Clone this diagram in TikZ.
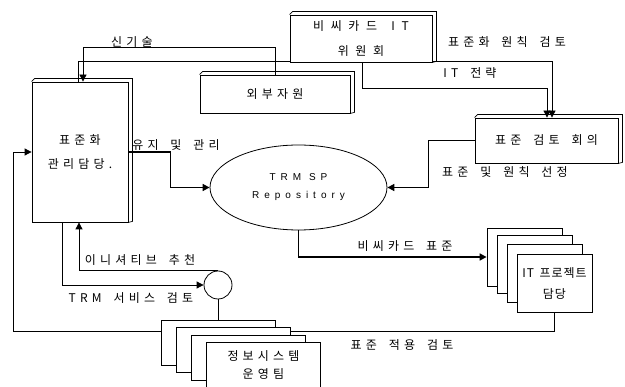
\documentclass[tikz,border=0pt]{standalone}
\usepackage{fontspec}
\usetikzlibrary{arrows.meta,shapes.geometric,backgrounds}
\newfontfamily\kr[LetterSpace=35]{Noto Sans CJK KR}
\newfontfamily\krw[LetterSpace=55]{Noto Sans CJK KR}
\newfontfamily\krn[LetterSpace=8]{Noto Sans CJK KR}
\newfontfamily\lat[LetterSpace=50]{Liberation Sans}
\newcommand\ws{\hspace{5pt}}
\newcommand\depthbox[1]{%
  \draw[line width=0.7pt] (#1.north west) -- ([shift={(3,-3)}]#1.north west)
    -- ([shift={(4,-3)}]#1.north east) -- ([shift={(4,-1)}]#1.south east) -- (#1.south east);}
\begin{document}
\begin{tikzpicture}[x=1pt,y=-1pt,
  box/.style={draw, line width=0.8pt, fill=white, inner sep=0pt, align=center,
    font=\kr\fontsize{12}{24}\selectfont},
  lbl/.style={font=\kr\fontsize{12}{14}\selectfont, inner sep=0pt},
  con/.style={line width=0.8pt},
  boldcon/.style={line width=1.6pt},
  arr/.style={-{Triangle[length=7pt,width=7pt]}},
]
\useasboundingbox (0,0) rectangle (625,387);

% boxes
\node[box, minimum width=142, minimum height=47, font=\krw\fontsize{12}{25}\selectfont] (com) at (361,38.5) {비씨카드 \ws{}IT\\위원회};
\node[box, minimum width=150, minimum height=38] (ext) at (275,94) {외부자원};
\node[box, minimum width=96, minimum height=140] (mgr) at (80,152) {표준화\\관리담당.};
\node[box, minimum width=143, minimum height=45] (rev) at (546.5,140.5) {표준 \ws{}검토 \ws{}회의};
\node[draw, ellipse, line width=0.8pt, fill=white, minimum width=177, minimum height=85,
  inner sep=0pt, align=center, font=\lat\fontsize{10}{18}\selectfont] (repo) at (298.5,187.5)
  {TRM SP\\Repository};
\node[draw, circle, line width=0.8pt, fill=white, minimum size=28, inner sep=0pt] (circ) at (218,285) {};

\node[box, minimum width=75, minimum height=58] (itp1) at (524.5,257) {};
\node[box, minimum width=75, minimum height=58] (itp2) at (534.5,264) {};
\node[box, minimum width=75, minimum height=58] (itp3) at (544.5,273) {};
\node[box, minimum width=75, minimum height=58, font=\krn\fontsize{12}{21}\selectfont] (itp4) at (554.5,283) {IT \hspace{2pt}프로젝트\\담당};

\node[box, minimum width=114, minimum height=45] (ops1) at (218,342.5) {};
\node[box, minimum width=114, minimum height=45] (ops2) at (233.5,350) {};
\node[box, minimum width=114, minimum height=45] (ops3) at (248.5,357.5) {};
\node[box, minimum width=114, minimum height=45, font=\kr\fontsize{12}{18}\selectfont] (ops4) at (263.5,364.5) {정보시스템\\운영팀};

\depthbox{com}
\depthbox{ext}
\depthbox{mgr}
\depthbox{rev}

\begin{scope}[on background layer]
% 신기술
\draw[con,arr] (ext.north) -- ++(0,-27) -| ([xshift=3]mgr.north);
% 표준화 원칙 검토
\draw[con,arr] ([xshift=-2]mgr.north) -- ++(0,-20) -| ([xshift=5.5]rev.north);
% IT 전략
\draw[con,arr] ([xshift=1]com.south) -- ++(0,26) -| ([xshift=0.5]rev.north);
% 유지 및 관리
\draw[boldcon,arr] (mgr.east) -- ++(42,0) |- (repo.west);
% 표준 및 원칙 선정
\draw[boldcon,arr] (rev.west) -- ++(-46,0) |- (repo.east);
% 비씨카드 표준
\draw[boldcon,arr] (repo.south) |- (itp1.west);
% 표준 적용 검토
\draw[con,arr] (itp4.south) -- ++(0,19) -| (13,152) -- (mgr.west);
% TRM 서비스 검토
\draw[con,arr] ([xshift=-18]mgr.south) |- (circ.west);
% 이니셔티브 추천
\draw[con,arr] (circ.north) -| ([xshift=-1]mgr.south);
% circle to ops
\draw[con] (circ.south) -- (ops1.north);
\end{scope}

% labels
\node[lbl] (l1) at (132,42) {신기술};
\node[lbl] (l2) at (507,42) {표준화 \ws{}원칙 \ws{}검토};
\node[lbl] (l3) at (470,73) {IT \ws{}전략};
\node[lbl] (l4) at (176,145) {유지 \ws{}및 \ws{}관리};
\node[lbl] (l5) at (505,172) {표준 \ws{}및 \ws{}원칙 \ws{}선정};
\node[lbl] (l6) at (405,246) {비씨카드 \ws{}표준};
\node[lbl] (l7) at (402,345) {표준 \ws{}적용 \ws{}검토};
\node[lbl] (l8) at (131,298) {TRM \ws{}서비스 \ws{}검토};
\node[lbl] (l9) at (140,260) {이니셔티브 \ws{}추천};
\end{tikzpicture}
\end{document}
